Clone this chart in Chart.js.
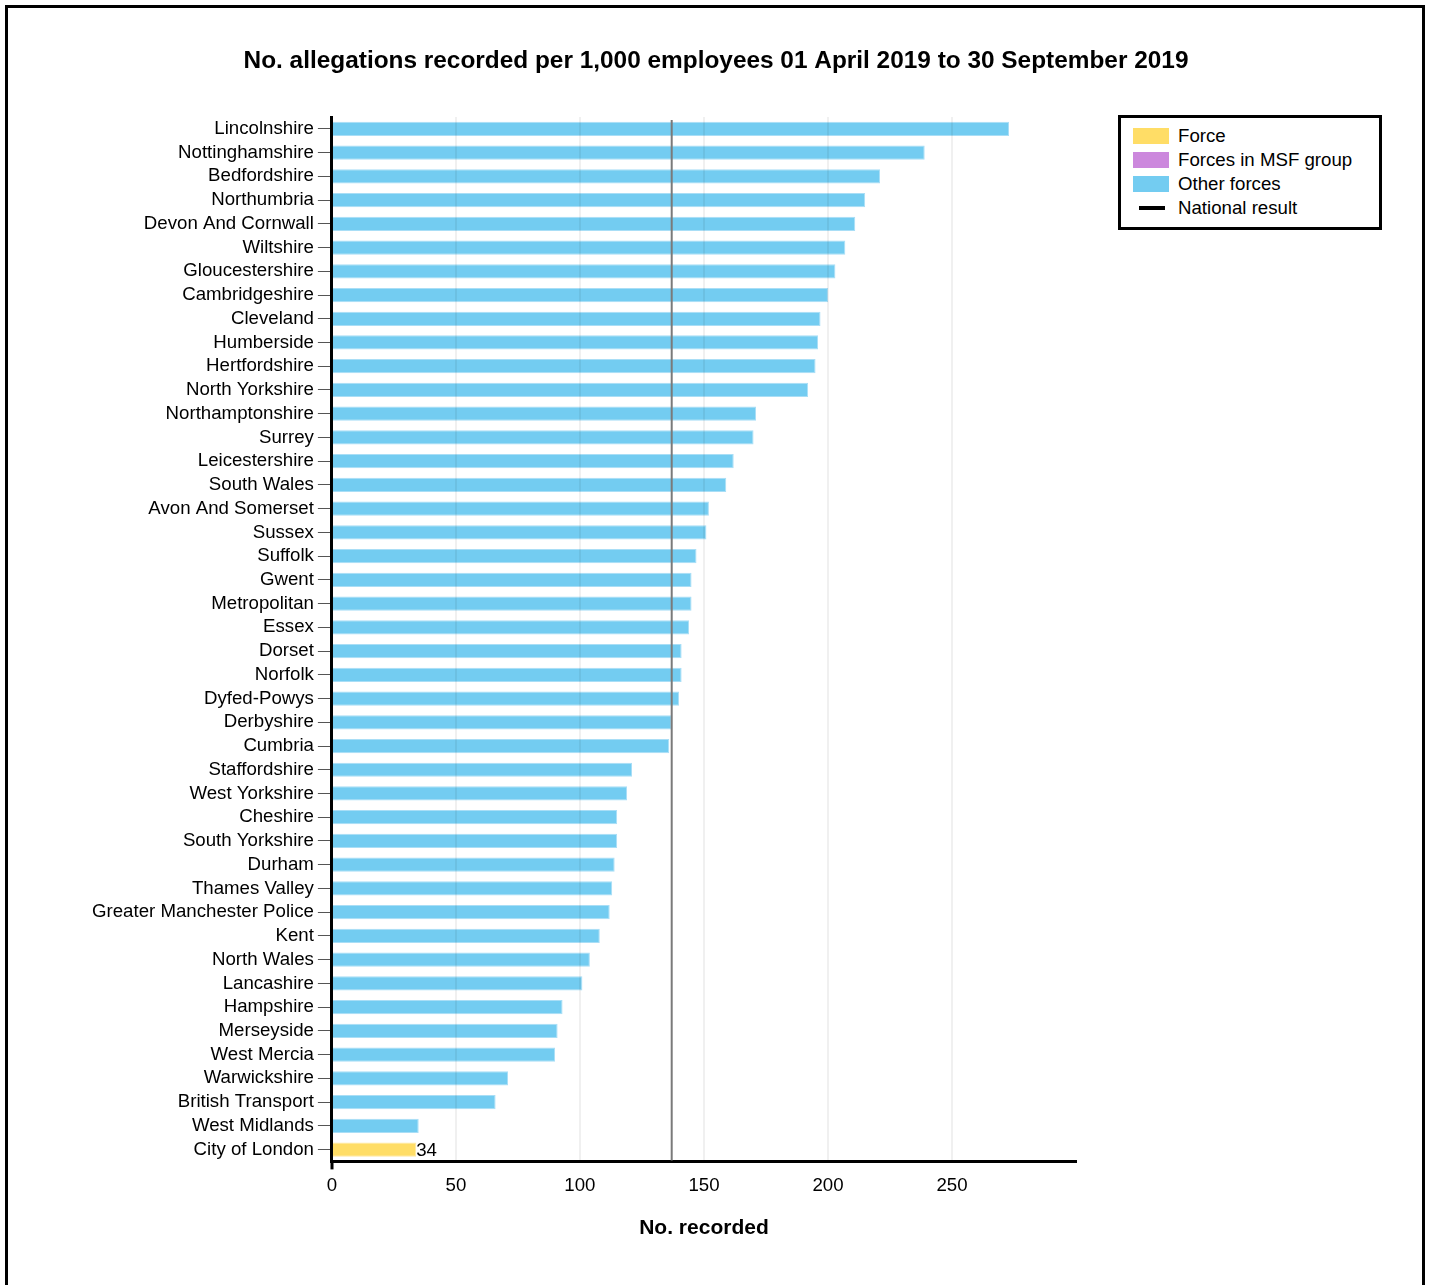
<!DOCTYPE html>
<html><head><meta charset="utf-8">
<script src="https://cdn.jsdelivr.net/npm/chart.js@4.4.1/dist/chart.umd.min.js"></script>
<style>
html,body{margin:0;padding:0;background:#fff;}
#wrap{position:relative;width:1432px;height:1285px;overflow:hidden;}
#frame{position:absolute;left:5px;top:5px;width:1414px;height:1320px;border:3px solid #000;pointer-events:none;}
canvas{position:absolute;left:0;top:0;}
#legend{position:absolute;left:1118px;top:115px;width:258px;height:109px;border:3px solid #000;font-family:'Liberation Sans',Arial,sans-serif;font-size:18.67px;color:#000;background:#fff;}
.item{position:absolute;left:0;height:24px;line-height:24px;}
.sw{position:absolute;left:12px;top:4px;width:36px;height:16px;}
.ln{position:absolute;left:18px;top:10px;width:26px;height:4px;background:#000;}
.tx{position:absolute;left:57px;white-space:nowrap;}
</style></head>
<body>
<div id="wrap">
<canvas id="c" width="1432" height="1285"></canvas>
<div id="frame"></div>
<div id="legend"></div>
</div>
<script>
const chartTitle = 'No. allegations recorded per 1,000 employees 01 April 2019 to 30 September 2019';
const axisTitle = 'No. recorded';
const categories = ['Lincolnshire','Nottinghamshire','Bedfordshire','Northumbria','Devon And Cornwall','Wiltshire','Gloucestershire','Cambridgeshire','Cleveland','Humberside','Hertfordshire','North Yorkshire','Northamptonshire','Surrey','Leicestershire','South Wales','Avon And Somerset','Sussex','Suffolk','Gwent','Metropolitan','Essex','Dorset','Norfolk','Dyfed-Powys','Derbyshire','Cumbria','Staffordshire','West Yorkshire','Cheshire','South Yorkshire','Durham','Thames Valley','Greater Manchester Police','Kent','North Wales','Lancashire','Hampshire','Merseyside','West Mercia','Warwickshire','British Transport','West Midlands','City of London'];
const values = [273,239,221,215,211,207,203,200,197,196,195,192,171,170,162,159,152,151,147,145,145,144,141,141,140,137,136,121,119,115,115,114,113,112,108,104,101,93,91,90,71,66,35,34];
const selectedForce = ['City of London'];
const msfGroup = [];
const nationalResult = 137;
const xTicks = [0,50,100,150,200,250];
const xMax = 300;
const legendLabels = ['Force','Forces in MSF group','Other forces','National result'];
const colors = {force:'#FFDD66', msf:'#CC88DD', other:'#73CCF1', national:'#000000'};

const FONT = "'Liberation Sans', Arial, sans-serif";
Chart.defaults.font.family = FONT;
Chart.defaults.color = '#000';

const barColors = categories.map(c => selectedForce.includes(c) ? colors.force : (msfGroup.includes(c) ? colors.msf : colors.other));
const borderColors = categories.map(c => selectedForce.includes(c) ? '#FFE9A0' : '#A9DEF6');

// HTML legend
const lg = document.getElementById('legend');
const swatches = [colors.force, colors.msf, colors.other, null];
legendLabels.forEach((t,i)=>{
  const d = document.createElement('div'); d.className='item'; d.style.top=(6+i*24)+'px';
  const s = document.createElement('div');
  if (swatches[i]) { s.className='sw'; s.style.background=swatches[i]; } else { s.className='ln'; }
  const tx = document.createElement('div'); tx.className='tx'; tx.textContent=t;
  d.appendChild(s); d.appendChild(tx); lg.appendChild(d);
});

const extras = {
  id:'extras',
  afterDraw(chart){
    const {ctx, chartArea, scales} = chart;
    ctx.save();
    // centred page title
    ctx.fillStyle = '#000'; ctx.font = "bold 24.4px " + FONT;
    ctx.textAlign = 'center'; ctx.textBaseline = 'middle';
    ctx.fillText(chartTitle, chart.width/2, 61);
    // national result line
    const x = scales.x.getPixelForValue(nationalResult);
    ctx.strokeStyle = '#7a7a7a'; ctx.lineWidth = 2;
    ctx.beginPath(); ctx.moveTo(x, chartArea.top+3); ctx.lineTo(x, chartArea.bottom-1); ctx.stroke();
    // value label for selected force
    const meta = chart.getDatasetMeta(0);
    categories.forEach((c,i)=>{
      if (selectedForce.includes(c)) {
        const el = meta.data[i];
        ctx.fillStyle = '#000'; ctx.font = "18.67px " + FONT;
        ctx.textAlign='left'; ctx.textBaseline='middle';
        ctx.fillText(String(values[i]), el.x, el.y+1);
      }
    });
    ctx.restore();
  }
};

new Chart(document.getElementById('c'), {
  type:'bar',
  data:{ labels:categories, datasets:[{ data:values, backgroundColor:barColors, borderColor:borderColors, borderWidth:1, barPercentage:0.6, categoryPercentage:1 }]},
  options:{
    indexAxis:'y', responsive:false, animation:false, devicePixelRatio:1,
    layout:{padding:{left:88, right:356, top:117, bottom:44}},
    plugins:{ legend:{display:false}, tooltip:{enabled:false}, title:{display:false} },
    scales:{
      x:{ min:0, max:xMax, afterBuildTicks(s){ s.ticks = xTicks.concat([xMax]).map(v=>({value:v})); },
        ticks:{ color:'#000', font:{size:18.67}, padding:5, callback:(v)=> xTicks.includes(v) ? String(v) : '' },
        grid:{ color:(ctx)=> (ctx.tick && ctx.tick.value>0 && ctx.tick.value<xMax) ? 'rgba(0,0,0,0.06)' : 'rgba(0,0,0,0)', lineWidth:2, z:1,
               tickColor:(ctx)=> (ctx.tick && ctx.tick.value===0) ? '#000' : 'rgba(0,0,0,0)', tickWidth:3, tickLength:8 },
        border:{color:'#000', width:3, z:2},
        title:{display:true, text:axisTitle, color:'#000', font:{size:21, weight:'bold'}, padding:{top:14, bottom:0}}
      },
      y:{ ticks:{ color:'#000', font:{size:18.67}, padding:4, autoSkip:false },
        grid:{ drawOnChartArea:false, offset:false, tickLength:14, tickColor:'#555', lineWidth:1 },
        border:{color:'#000', width:3}
      }
    }
  },
  plugins:[extras]
});
</script>
</body></html>
